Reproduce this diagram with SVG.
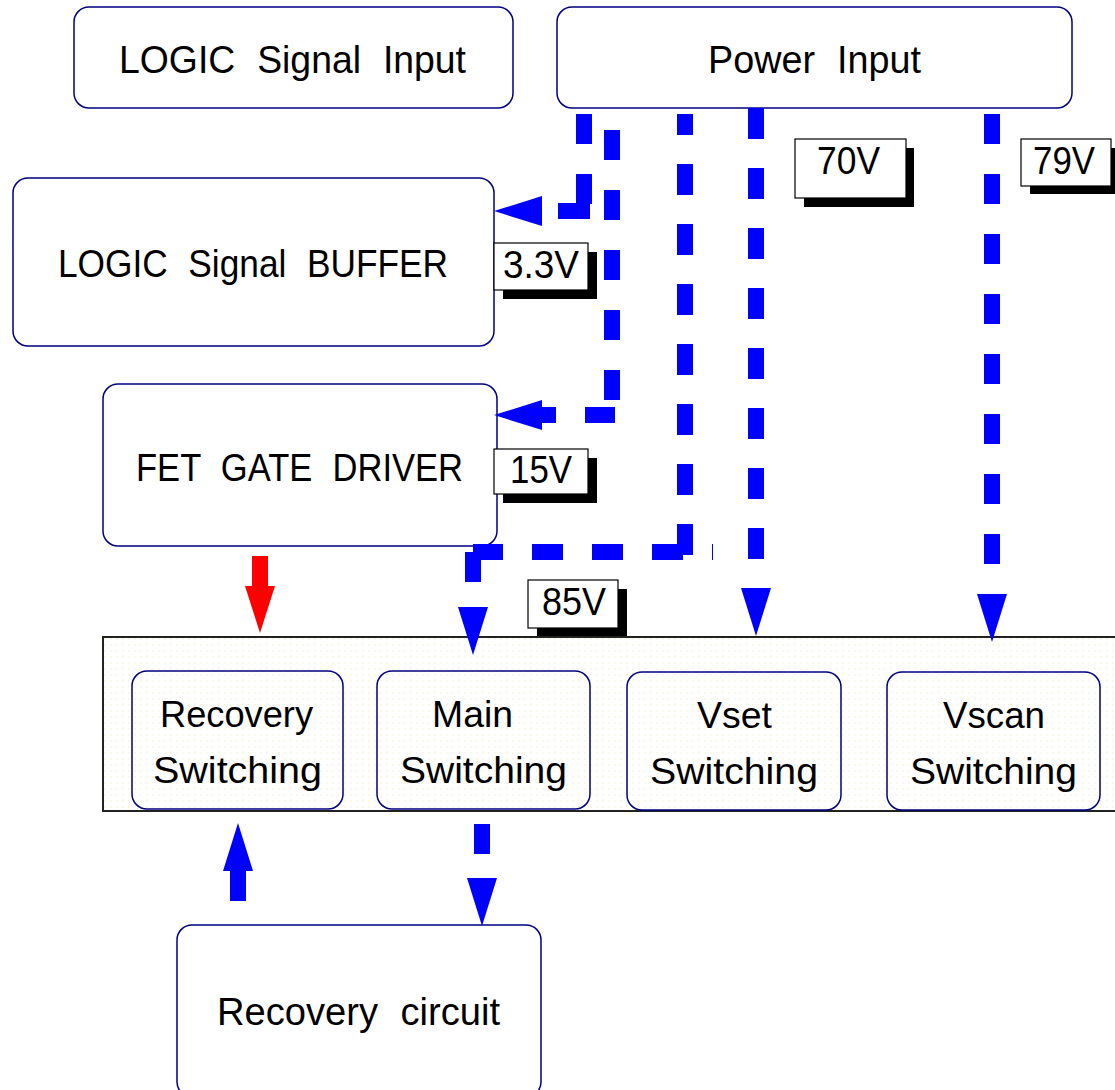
<svg xmlns="http://www.w3.org/2000/svg" width="1115" height="1090" viewBox="0 0 1115 1090">
<style>
.box{fill:#fff;stroke:#000080;stroke-width:1.5}
.sw{fill:none;stroke:#000080;stroke-width:1.5}
.t{font-family:"Liberation Sans",Arial,sans-serif;fill:#000}
.big{font-size:39px}
.mid{font-size:37px}
.lt{font-size:38px}
.dash{fill:none;stroke:#0000ff;stroke-width:16}
.lbl{fill:#fff;stroke:#000;stroke-width:1.2}
.shadow{fill:#000}
</style>
<defs>
<pattern id="dots" width="6" height="6" patternUnits="userSpaceOnUse">
<rect width="6" height="6" fill="#fff"/>
<rect x="2" y="2" width="1.6" height="1.6" fill="#f5f5e2"/>
</pattern>
<marker id="ahB" markerUnits="userSpaceOnUse" markerWidth="50" markerHeight="32" refX="0" refY="15" orient="auto" overflow="visible">
<path d="M0,0 L48,15 L0,30 Z" fill="#0000ff"/>
</marker>
<marker id="ahR" markerUnits="userSpaceOnUse" markerWidth="50" markerHeight="32" refX="0" refY="15" orient="auto" overflow="visible">
<path d="M0,0 L47,15 L0,30 Z" fill="#ff0000"/>
</marker>
</defs>
<rect width="1115" height="1090" fill="#fff"/>

<g id="switching-block">
<rect x="103" y="637" width="1022" height="174" fill="url(#dots)" stroke="#222" stroke-width="2"/>
</g>

<g id="logic-signal-input">
<rect class="box" x="74" y="7" width="439" height="101" rx="15"/>
<text class="t big" x="119" y="73" textLength="347" lengthAdjust="spacingAndGlyphs" word-spacing="12">LOGIC Signal Input</text>
</g>
<g id="power-input">
<rect class="box" x="557" y="7" width="515" height="101" rx="15"/>
<text class="t big" x="708" y="73" textLength="213" lengthAdjust="spacingAndGlyphs" word-spacing="12">Power Input</text>
</g>
<g id="logic-signal-buffer">
<rect class="box" x="13" y="178" width="481" height="168" rx="15"/>
<text class="t big" x="58" y="277" textLength="390" lengthAdjust="spacingAndGlyphs" word-spacing="12">LOGIC Signal BUFFER</text>
</g>
<g id="fet-gate-driver">
<rect class="box" x="103" y="384" width="394" height="162" rx="15"/>
<text class="t big" x="136" y="481" textLength="327" lengthAdjust="spacingAndGlyphs" word-spacing="12">FET GATE DRIVER</text>
</g>
<g id="recovery-switching">
<rect class="sw" x="132" y="671" width="211" height="138" rx="15"/>
<text class="t mid" x="160" y="727" textLength="153" lengthAdjust="spacingAndGlyphs">Recovery</text>
<text class="t mid" x="153" y="783" textLength="169" lengthAdjust="spacingAndGlyphs">Switching</text>
</g>
<g id="main-switching">
<rect class="sw" x="377" y="671" width="213" height="138" rx="15"/>
<text class="t mid" x="432" y="727" textLength="81" lengthAdjust="spacingAndGlyphs">Main</text>
<text class="t mid" x="400" y="783" textLength="167" lengthAdjust="spacingAndGlyphs">Switching</text>
</g>
<g id="vset-switching">
<rect class="sw" x="627" y="672" width="214" height="138" rx="15"/>
<text class="t mid" x="697" y="728" textLength="75" lengthAdjust="spacingAndGlyphs">Vset</text>
<text class="t mid" x="650" y="784" textLength="168" lengthAdjust="spacingAndGlyphs">Switching</text>
</g>
<g id="vscan-switching">
<rect class="sw" x="887" y="672" width="213" height="138" rx="15"/>
<text class="t mid" x="943" y="728" textLength="102" lengthAdjust="spacingAndGlyphs">Vscan</text>
<text class="t mid" x="910" y="784" textLength="167" lengthAdjust="spacingAndGlyphs">Switching</text>
</g>
<g id="recovery-circuit">
<rect class="box" x="177" y="925" width="364" height="172" rx="15"/>
<text class="t big" x="217" y="1025" textLength="283" lengthAdjust="spacingAndGlyphs" word-spacing="12">Recovery circuit</text>
</g>

<g id="connectors">
<!-- 3.3V to buffer -->
<path class="dash" d="M584,114 V204" stroke-dasharray="30 30"/>
<path class="dash" d="M590,211 H542" stroke-dasharray="32 100" marker-end="url(#ahB)"/>
<!-- 15V to FET driver -->
<path class="dash" d="M612,130 V401" stroke-dasharray="30 30"/>
<path class="dash" d="M615,415 H542" stroke-dasharray="30 29 15 100" marker-end="url(#ahB)"/>
<!-- 85V to Main switching -->
<path class="dash" d="M685,114 V556" stroke-dasharray="31 29" stroke-dashoffset="10"/>
<path class="dash" d="M713,552 H473" stroke-dasharray="31 29" stroke-dashoffset="30"/>
<path class="dash" d="M473,552 V607" stroke-dasharray="30 100" marker-end="url(#ahB)"/>
<!-- 70V to Vset -->
<path class="dash" d="M756,108 V588" stroke-dasharray="31 29" marker-end="url(#ahB)"/>
<!-- 79V to Vscan -->
<path class="dash" d="M992,114 V594" stroke-dasharray="30 30" marker-end="url(#ahB)"/>
<!-- FET driver to Recovery switching -->
<path d="M260,556 V586" stroke="#ff0000" stroke-width="16" fill="none" marker-end="url(#ahR)"/>
<!-- Recovery circuit to Recovery switching -->
<path d="M238,901 V871" stroke="#0000ff" stroke-width="16" fill="none" marker-end="url(#ahB)"/>
<!-- Main switching to Recovery circuit -->
<path class="dash" d="M482,824 V878" stroke-dasharray="30 100" marker-end="url(#ahB)"/>
</g>

<g id="label-3v3">
<rect class="shadow" x="503" y="252" width="94" height="47"/>
<rect class="lbl" x="494" y="243" width="94" height="47"/>
<text class="t lt" x="503" y="278" textLength="76" lengthAdjust="spacingAndGlyphs">3.3V</text>
</g>
<g id="label-15v">
<rect class="shadow" x="503" y="458" width="94" height="45"/>
<rect class="lbl" x="494" y="449" width="94" height="45"/>
<text class="t lt" x="510" y="483" textLength="62" lengthAdjust="spacingAndGlyphs">15V</text>
</g>
<g id="label-85v">
<rect class="shadow" x="537" y="589" width="90" height="47"/>
<rect class="lbl" x="528" y="580" width="90" height="48"/>
<text class="t lt" x="542" y="615" textLength="64" lengthAdjust="spacingAndGlyphs">85V</text>
</g>
<g id="label-70v">
<rect class="shadow" x="804" y="148" width="110" height="59"/>
<rect class="lbl" x="795" y="139" width="111" height="59"/>
<text class="t lt" x="817" y="174" textLength="63" lengthAdjust="spacingAndGlyphs">70V</text>
</g>
<g id="label-79v">
<rect class="shadow" x="1030" y="148" width="90" height="46"/>
<rect class="lbl" x="1021" y="139" width="90" height="47"/>
<text class="t lt" x="1033" y="174" textLength="62" lengthAdjust="spacingAndGlyphs">79V</text>
</g>
</svg>
